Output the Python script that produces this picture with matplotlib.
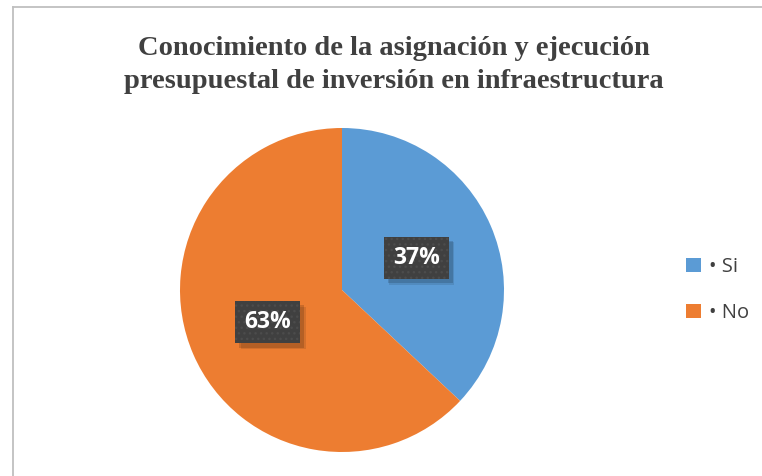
import matplotlib
matplotlib.use("Agg")
import matplotlib.pyplot as plt
from matplotlib.patches import Patch
import matplotlib.patheffects as pe

title = "Conocimiento de la asignación y ejecución\npresupuestal de inversión en infraestructura"
categories = ["• Si", "• No"]
values = [37, 63]
colors = ["#5B9BD5", "#ED7D31"]

W, H = 762, 476
fig = plt.figure(figsize=(W / 100, H / 100), dpi=100)
fig.patch.set_facecolor("white")


class PlainShadow(pe.AbstractPathEffect):
    """Drop shadow without the patch's hatch."""
    def __init__(self, offset=(3, -3), alpha=0.2):
        super().__init__(offset)
        self.alpha = alpha

    def draw_path(self, renderer, gc, tpath, affine, rgbFace):
        gc0 = renderer.new_gc()
        gc0.copy_properties(gc)
        gc0.set_hatch(None)
        gc0.set_linewidth(0)
        gc0.set_alpha(self.alpha)
        renderer.draw_path(gc0, tpath, affine + self._offset_transform(renderer), (0, 0, 0))
        gc0.restore()


# frame (top and left lines visible)
fig.add_artist(plt.Line2D([12.5 / W, 1], [1 - 6.5 / H] * 2, color="#BFBFBF", lw=1.3))
fig.add_artist(plt.Line2D([12.5 / W] * 2, [0, 1 - 6.5 / H], color="#BFBFBF", lw=1.3))

fig.text(394 / W, 1 - 65 / H, title, ha="center", va="center",
         fontsize=20.5, fontweight="bold", family="Liberation Serif",
         color="#404040", linespacing=1.42)

cx, cy, r = 342, 290, 162
ax = fig.add_axes([(cx - r) / W, 1 - (cy + r) / H, 2 * r / W, 2 * r / H])
wedges, texts, autotexts = ax.pie(values, colors=colors, startangle=90, counterclock=False,
                                  autopct=lambda p: f"{p:.0f}%", pctdistance=0.5,
                                  wedgeprops=dict(linewidth=0))
ax.set_xlim(-1, 1)
ax.set_ylim(-1, 1)
ax.set_aspect("equal")
ax.axis("off")

plt.rcParams["hatch.linewidth"] = 1.0
for t in autotexts:
    t.set_color("white")
    t.set_fontsize(16.5)
    t.set_fontweight("bold")
    t.set_family("Open Sans")
    t.set_bbox(dict(boxstyle="square,pad=0.4", facecolor="#404040", edgecolor="#4C4C4C",
                    linewidth=0, hatch="..."))
    t.get_bbox_patch().set_path_effects([PlainShadow((4, -4), 0.10),
                                         PlainShadow((3, -3), 0.15),
                                         pe.Normal()])

handles = [Patch(facecolor=c, edgecolor="none") for c in colors]
leg = fig.legend(handles, categories, loc="center left", bbox_to_anchor=(668 / W, 1 - 290 / H),
                 frameon=False, handlelength=0.75, handleheight=0.75,
                 handletextpad=0.4, labelspacing=1.3, prop={"family": "Open Sans", "size": 14.5})
for txt in leg.get_texts():
    txt.set_color("#404040")

fig.savefig("out.png", dpi=100)
